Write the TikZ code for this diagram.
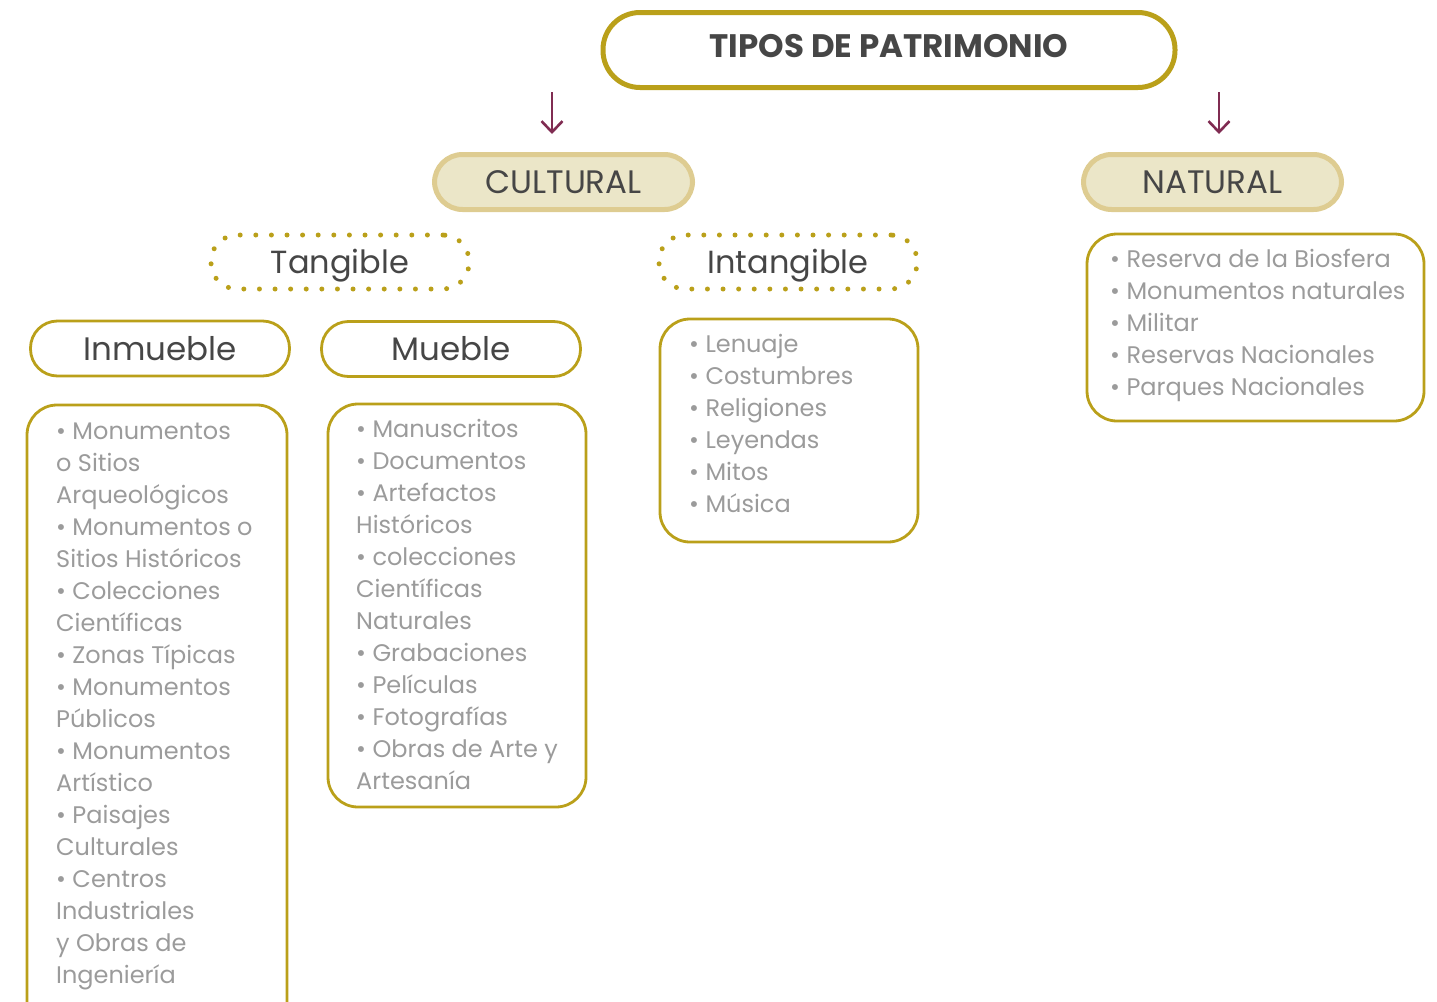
\documentclass[tikz,border=0pt]{standalone}
\usepackage{fontspec}
\setmainfont{Poppins}
\usetikzlibrary{arrows.meta}
\definecolor{gold}{RGB}{186,160,26}
\definecolor{beigefill}{RGB}{235,230,200}
\definecolor{beigeline}{RGB}{222,204,145}
\definecolor{maroon}{RGB}{128,44,82}
\definecolor{darktext}{RGB}{70,70,70}
\definecolor{graytext}{RGB}{155,155,155}
\tikzset{
  rootbox/.style={draw=gold, line width=5pt, rounded corners=37pt, minimum width=572pt, minimum height=75pt, inner sep=0pt, text=darktext, font=\fontsize{32.5}{36}\selectfont\bfseries},
  pill/.style={draw=beigeline, fill=beigefill, line width=5pt, rounded corners=28pt, minimum width=258pt, minimum height=55pt, inner sep=0pt, text=darktext, font=\fontsize{32.5}{36}\selectfont},
  dotbox/.style={draw=gold, line width=5pt, dash pattern=on 0pt off 15.6pt, line cap=round, rounded corners=26pt, minimum width=258pt, minimum height=54pt, inner sep=0pt, text height=22.5pt, text depth=0pt, text=darktext, font=\fontsize{32}{36}\selectfont},
  subbox/.style={draw=gold, line width=2.8pt, rounded corners=27pt, minimum width=259pt, minimum height=55pt, inner sep=0pt, text=darktext, font=\fontsize{32.5}{36}\selectfont},
  listbox/.style={draw=gold, line width=2.8pt, rounded corners=30pt, inner sep=0pt},
  listtext/.style={anchor=north west, align=left, inner sep=0pt, text=graytext, font=\fontsize{24}{32}\selectfont},
  arr/.style={draw=maroon, line width=2.6pt, -{Straight Barb[length=11pt, width=21pt, line width=2.6pt]}}
}
\begin{document}
\begin{tikzpicture}[x=1pt, y=-1pt]
\useasboundingbox (0,0) rectangle (1437,1001);
\clip (0,0) rectangle (1437,1001);

\node[rootbox, text depth=8pt] (root) at (889,50) {TIPOS DE PATRIMONIO};

\coordinate (a1s) at (552,92);
\coordinate (a1e) at (552,134);
\coordinate (a2s) at (1219,92);
\coordinate (a2e) at (1219,134);
\draw[arr] (a1s) -- (a1e);
\draw[arr] (a2s) -- (a2e);

\node[pill] (cultural) at (563.5,182) {CULTURAL};
\node[pill] (natural) at (1212.5,182) {NATURAL};

\node[dotbox] (tangible) at (340,262) {Tangible};
\node[dotbox] (intangible) at (788,262) {Intangible};

\node[subbox] (inmueble) at (160,348.5) {Inmueble};
\node[subbox] (mueble) at (451,349) {Mueble};

\node[listbox, minimum width=260pt, minimum height=640pt] (inmlist) at (157,725) {};
\node[listbox, minimum width=258pt, minimum height=403pt] (muelist) at (457,605.5) {};
\node[listbox, minimum width=258pt, minimum height=223pt] (intlist) at (789,430.5) {};
\node[listbox, minimum width=337pt, minimum height=187pt] (natlist) at (1255.5,327.5) {};

\node[listtext] (inmtext) at (56,422.5) {• Monumentos\\o Sitios\\Arqueológicos\\• Monumentos o\\Sitios Históricos\\• Colecciones\\Científicas\\• Zonas Típicas\\• Monumentos\\Públicos\\• Monumentos\\Artístico\\• Paisajes\\Culturales\\• Centros\\Industriales\\y Obras de\\Ingeniería};

\node[listtext] (muetext) at (356,419.5) {• Manuscritos\\• Documentos\\• Artefactos\\Históricos\\• colecciones\\Científicas\\Naturales\\• Grabaciones\\• Películas\\• Fotografías\\• Obras de Arte y\\Artesanía};

\node[listtext] (inttext) at (689,334.5) {• Lenuaje\\• Costumbres\\• Religiones\\• Leyendas\\• Mitos\\• Música};

\node[listtext] (nattext) at (1110,248.5) {• Reserva de la Biosfera\\• Monumentos naturales\\• Militar\\• Reservas Nacionales\\• Parques Nacionales};
\end{tikzpicture}
\end{document}
